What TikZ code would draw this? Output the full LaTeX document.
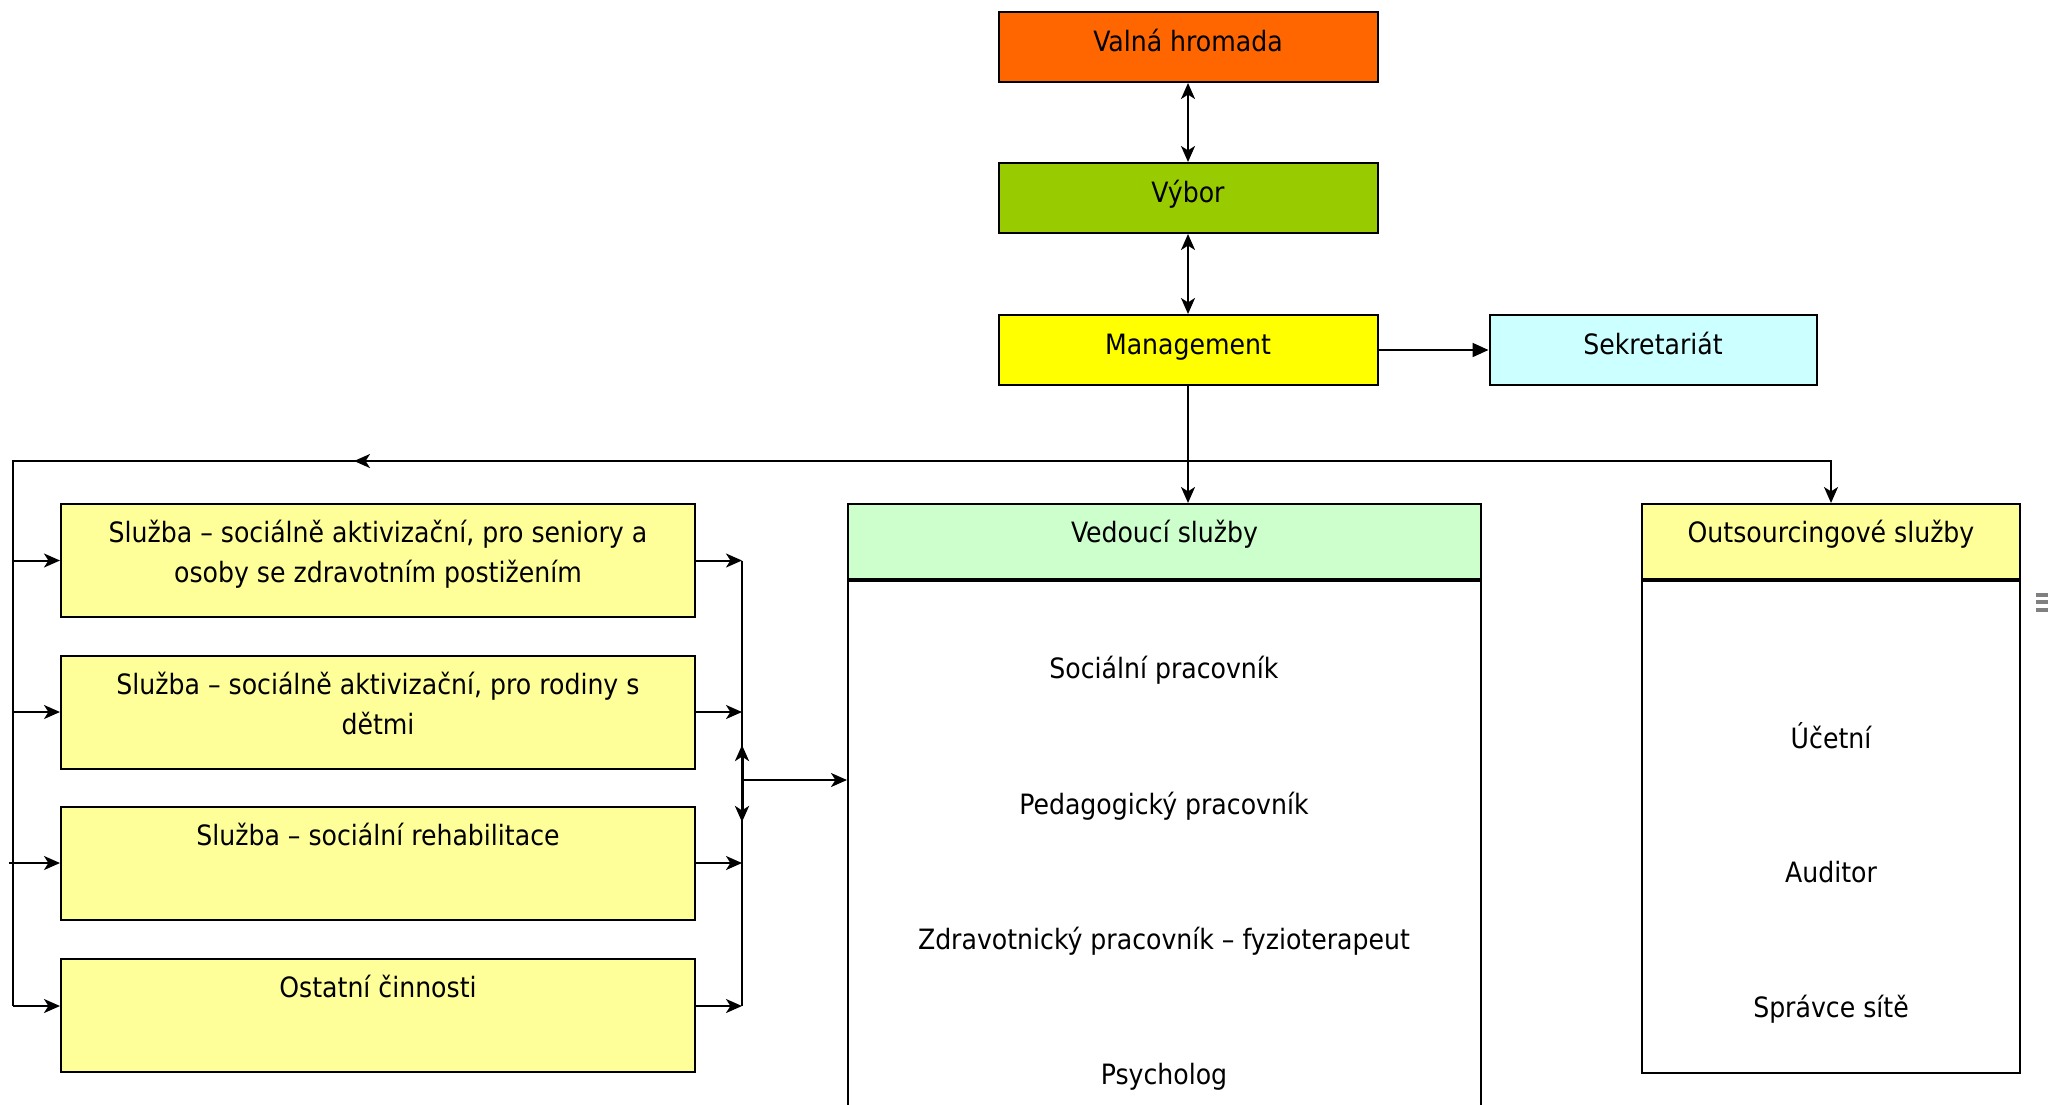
\documentclass[tikz,border=0pt]{standalone}
\usepackage{fontspec}
\setmainfont{DejaVu Sans Condensed}
\usetikzlibrary{arrows.meta}

\definecolor{vhorange}{HTML}{FF6600}
\definecolor{vyborgreen}{HTML}{99CC00}
\definecolor{mgmtyellow}{HTML}{FFFF00}
\definecolor{sekrcyan}{HTML}{CCFFFF}
\definecolor{vedgreen}{HTML}{CCFFCC}
\definecolor{lightyellow}{HTML}{FFFF99}

\begin{document}
\begin{tikzpicture}[x=0.5pt,y=-0.5pt,
  every node/.style={font=\fontsize{14pt}{20pt}\selectfont},
  topbox/.style={draw, line width=1pt, minimum width=189.5pt, minimum height=35pt, inner sep=0pt, text height=10pt, text depth=6pt},
  leftbox/.style={draw, line width=1pt, fill=lightyellow, minimum width=317pt, minimum height=56.5pt, inner sep=0pt},
  boxtext/.style={anchor=north, align=center, inner sep=0pt},
  conn/.style={line width=1pt, -{Stealth[length=8pt,width=7pt,inset=2.2pt]}},
  twoway/.style={line width=1pt, {Stealth[length=8pt,width=7pt,inset=2.2pt]}-{Stealth[length=8pt,width=7pt,inset=2.2pt]}},
  plain/.style={line width=1pt}
]
\useasboundingbox (0,0) rectangle (2048,1104);

% top of the organisation
\node[topbox, fill=vhorange] (valna) at (1188,47) {Valná hromada};
\node[topbox, fill=vyborgreen] (vybor) at (1188,198) {Výbor};
\node[topbox, fill=mgmtyellow] (mgmt) at (1188,350) {Management};
\node[topbox, fill=sekrcyan, minimum width=163.5pt] (sekr) at (1653,350) {Sekretariát};

\draw[twoway] (valna.south) -- (vybor.north);
\draw[twoway] (vybor.south) -- (mgmt.north);
\draw[line width=1pt, -{Triangle[length=8pt,width=7pt]}] (mgmt.east) -- (sekr.west);

% services on the left
\node[leftbox] (sluzba1) at (378,560.5) {};
\node[leftbox] (sluzba2) at (378,712) {};
\node[leftbox] (sluzba3) at (378,863) {};
\node[leftbox] (ostatni) at (378,1015) {};
\node[boxtext] (sluzba1t) at ([yshift=-8.5pt]sluzba1.north) {Služba – sociálně aktivizační, pro seniory a\\osoby se zdravotním postižením};
\node[boxtext] (sluzba2t) at ([yshift=-8.5pt]sluzba2.north) {Služba – sociálně aktivizační, pro rodiny s\\dětmi};
\node[boxtext] (sluzba3t) at ([yshift=-8.5pt]sluzba3.north) {Služba – sociální rehabilitace};
\node[boxtext] (ostatnit) at ([yshift=-8.5pt]ostatni.north) {Ostatní činnosti};

% vedouci sluzby
\node[draw, line width=1pt, fill=vedgreen, minimum width=316.5pt, minimum height=37.5pt, inner sep=0pt] (vedh) at (1164.5,541.5) {};
\node[draw, line width=1pt, minimum width=316.5pt, minimum height=268pt, inner sep=0pt, anchor=north] (vedb) at (vedh.south) {};
\node[boxtext] (vedht) at ([yshift=-8.5pt]vedh.north) {Vedoucí služby};
\node (soc) at (1164,670) {Sociální pracovník};
\node (ped) at (1164,806) {Pedagogický pracovník};
\node (zdr) at (1164,941) {Zdravotnický pracovník – fyzioterapeut};
\node (psy) at (1164,1077) {Psycholog};

% outsourcing
\node[draw, line width=1pt, fill=lightyellow, minimum width=189pt, minimum height=37.5pt, inner sep=0pt] (outh) at (1831,541.5) {};
\node[draw, line width=1pt, minimum width=189pt, minimum height=246pt, inner sep=0pt, anchor=north] (outb) at (outh.south) {};
\node[boxtext] (outht) at ([yshift=-8.5pt]outh.north) {Outsourcingové služby};
\node (ucetni) at (1831,736) {Účetní};
\node (auditor) at (1831,872) {Auditor};
\node (spravce) at (1831,1009) {Správce sítě};

% coordinates for the connecting lines
\coordinate (jtop) at (1188,461);
\coordinate (jleft) at (13,461);
\coordinate (jright) at (742,0);
\coordinate (jmid) at (742,780);
\coordinate (ostw) at ([yshift=4.5pt]ostatni.west);
\coordinate (oste) at ([yshift=4.5pt]ostatni.east);

\draw[conn] (mgmt.south) -- (vedh.north -| mgmt.south);
\draw[conn] (jtop) -| (outh.north);
\draw[plain] (jtop) -- (jleft) -- (jleft |- ostw);
\draw[conn] (490,461) -- (354,461);

\draw[conn] (jleft |- sluzba1.west) -- (sluzba1.west);
\draw[conn] (jleft |- sluzba2.west) -- (sluzba2.west);
\draw[conn] ([xshift=-2pt]jleft |- sluzba3.west) -- (sluzba3.west);
\draw[conn] (jleft |- ostw) -- (ostw);

\draw[conn] (sluzba1.east) -- (jright |- sluzba1.east);
\draw[conn] (sluzba2.east) -- (jright |- sluzba2.east);
\draw[conn] (sluzba3.east) -- (jright |- sluzba3.east);
\draw[conn] (oste) -- (jright |- oste);
\draw[plain] (jright |- sluzba1.east) -- (jright |- oste);

\draw[line width=1.5pt, {Stealth[length=8pt,width=7pt,inset=2.2pt]}-{Stealth[length=8pt,width=7pt,inset=2.2pt]}] (742,745) -- (742,822);
\draw[conn] (jmid) -- (vedb.west |- jmid);

% mark at the right edge
\foreach \y in {595,602,610}
  \draw[gray, line width=2pt] (2036,\y) -- (2048,\y);

\end{tikzpicture}
\end{document}
